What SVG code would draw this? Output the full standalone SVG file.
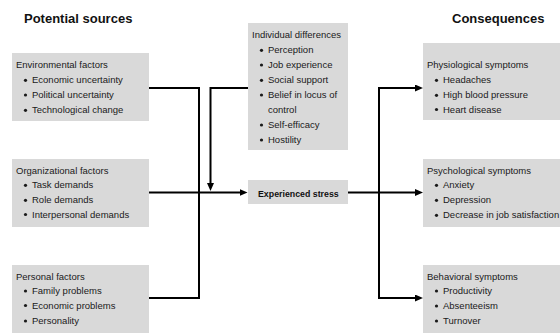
<svg xmlns="http://www.w3.org/2000/svg" width="560" height="333" viewBox="0 0 560 333">
<style>
.box{fill:#d9d9d9}
.t{font-family:"Liberation Sans",Arial,sans-serif;font-size:9.5px;fill:#1a1a1a}
.b{font-family:"Liberation Sans",Arial,sans-serif;font-size:8.8px;font-weight:bold;fill:#111}
.h{font-family:"Liberation Sans",Arial,sans-serif;font-size:13px;font-weight:bold;fill:#111}
.dot{fill:#1a1a1a}
.c{fill:none;stroke:#000;stroke-width:2}
.a{fill:none;stroke:#000;stroke-width:2;marker-end:url(#ah)}
</style>
<defs>
<marker id="ah" markerUnits="userSpaceOnUse" markerWidth="8" markerHeight="7" refX="4" refY="3.5" orient="auto">
<path d="M0,0 L8,3.5 L0,7 z" fill="#000"/>
</marker>
</defs>
<rect width="560" height="333" fill="#fff"/>

<text class="h" x="24" y="23">Potential sources</text>
<text class="h" x="452" y="23">Consequences</text>

<g id="connectors">
<path class="c" d="M149,88 H199 V298 H149"/>
<path class="a" d="M149,192.5 H243.5"/>
<path class="a" d="M248,88 H210.5 V187"/>
<path class="a" d="M348,192.5 H419"/>
<path class="a" d="M379,192.5 V88 H419"/>
<path class="a" d="M379,192.5 V298 H419"/>
</g>

<g id="environmental">
<rect class="box" x="12" y="53" width="137" height="68"/>
<text class="t" x="16" y="67.5">Environmental factors</text>
<circle class="dot" cx="25.5" cy="80.3" r="1.6"/><text class="t" x="32" y="83.3">Economic uncertainty</text>
<circle class="dot" cx="25.5" cy="95" r="1.6"/><text class="t" x="32" y="98">Political uncertainty</text>
<circle class="dot" cx="25.5" cy="110.3" r="1.6"/><text class="t" x="32" y="113.3">Technological change</text>
</g>

<g id="organizational">
<rect class="box" x="12" y="159" width="137" height="68"/>
<text class="t" x="16" y="174">Organizational factors</text>
<circle class="dot" cx="25.5" cy="185.3" r="1.6"/><text class="t" x="32" y="188.3">Task demands</text>
<circle class="dot" cx="25.5" cy="200.3" r="1.6"/><text class="t" x="32" y="203.3">Role demands</text>
<circle class="dot" cx="25.5" cy="214.5" r="1.6"/><text class="t" x="32" y="217.5">Interpersonal demands</text>
</g>

<g id="personal">
<rect class="box" x="12" y="265" width="137" height="68"/>
<text class="t" x="16" y="280">Personal factors</text>
<circle class="dot" cx="25.5" cy="291" r="1.6"/><text class="t" x="32" y="294">Family problems</text>
<circle class="dot" cx="25.5" cy="305.5" r="1.6"/><text class="t" x="32" y="308.5">Economic problems</text>
<circle class="dot" cx="25.5" cy="321" r="1.6"/><text class="t" x="32" y="324">Personality</text>
</g>

<g id="individual">
<rect class="box" x="248" y="23" width="100" height="127"/>
<text class="t" x="252" y="38">Individual differences</text>
<circle class="dot" cx="261.5" cy="50.3" r="1.6"/><text class="t" x="268" y="53.3">Perception</text>
<circle class="dot" cx="261.5" cy="65" r="1.6"/><text class="t" x="268" y="68">Job experience</text>
<circle class="dot" cx="261.5" cy="80.3" r="1.6"/><text class="t" x="268" y="83.3">Social support</text>
<circle class="dot" cx="261.5" cy="95" r="1.6"/><text class="t" x="268" y="98">Belief in locus of</text>
<text class="t" x="268" y="113">control</text>
<circle class="dot" cx="261.5" cy="125" r="1.6"/><text class="t" x="268" y="128">Self-efficacy</text>
<circle class="dot" cx="261.5" cy="140" r="1.6"/><text class="t" x="268" y="143">Hostility</text>
</g>

<g id="stress">
<rect class="box" x="248" y="180" width="100" height="24"/>
<text class="b" x="258" y="196.5">Experienced stress</text>
</g>

<g id="physiological">
<rect class="box" x="423" y="43" width="137" height="77"/>
<text class="t" x="427" y="67.5">Physiological symptoms</text>
<circle class="dot" cx="436.5" cy="80.3" r="1.6"/><text class="t" x="443" y="83.3">Headaches</text>
<circle class="dot" cx="436.5" cy="95.3" r="1.6"/><text class="t" x="443" y="98.3">High blood pressure</text>
<circle class="dot" cx="436.5" cy="109.5" r="1.6"/><text class="t" x="443" y="112.5">Heart disease</text>
</g>

<g id="psychological">
<rect class="box" x="423" y="159" width="137" height="68"/>
<text class="t" x="427" y="174">Psychological symptoms</text>
<circle class="dot" cx="436.5" cy="185.3" r="1.6"/><text class="t" x="443" y="188.3">Anxiety</text>
<circle class="dot" cx="436.5" cy="200.3" r="1.6"/><text class="t" x="443" y="203.3">Depression</text>
<circle class="dot" cx="436.5" cy="215.3" r="1.6"/><text class="t" x="443" y="218.3">Decrease in job satisfaction</text>
</g>

<g id="behavioral">
<rect class="box" x="423" y="265" width="137" height="68"/>
<text class="t" x="427" y="280.3">Behavioral symptoms</text>
<circle class="dot" cx="436.5" cy="291" r="1.6"/><text class="t" x="443" y="294">Productivity</text>
<circle class="dot" cx="436.5" cy="306" r="1.6"/><text class="t" x="443" y="309">Absenteeism</text>
<circle class="dot" cx="436.5" cy="321" r="1.6"/><text class="t" x="443" y="324">Turnover</text>
</g>
</svg>
